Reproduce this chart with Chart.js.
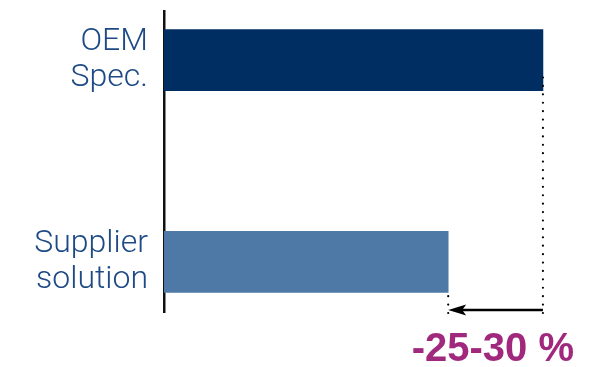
<!DOCTYPE html>
<html>
<head>
<meta charset="utf-8">
<script src="https://cdn.jsdelivr.net/npm/chart.js@4"></script>
<style>
  html,body{margin:0;padding:0;background:#fff;}
  #wrap{width:605px;height:367px;}
</style>
</head>
<body>
<div id="wrap"><canvas id="cmp"></canvas></div>
<script>
/* ---------- Data ---------- */
const categories = [['OEM','Spec.'], ['Supplier','solution']];
const values     = [100, 75];
const barColors  = ['#002d62', '#4e79a6'];
const deltaLabel = '-25-30 %';
const yMin = -0.243, yMax = 1.248;   // index axis range (bar 0 on top)

/* ---------- Dotted guides + arrow ---------- */
const guides = {
  id:'guides',
  afterDatasetsDraw(chart){
    const {ctx, chartArea, scales:{x, y}} = chart;
    const xTop = x.getPixelForValue(values[0]);
    const xLow = x.getPixelForValue(values[1]);
    const bottom = chartArea.bottom + 1;
    const barHalf = 30;
    ctx.save();
    ctx.strokeStyle = '#000';
    ctx.lineWidth = 2.2;
    ctx.lineCap = 'round';
    ctx.setLineDash([0.01, 8.4]);
    // dotted drop from OEM bar end
    ctx.beginPath();
    ctx.moveTo(xTop, bottom);
    ctx.lineTo(xTop, y.getPixelForValue(0) + 15);
    ctx.stroke();
    // dotted drop from supplier bar end
    ctx.beginPath();
    ctx.moveTo(xLow, bottom);
    ctx.lineTo(xLow, y.getPixelForValue(1) + barHalf);
    ctx.stroke();
    // arrow
    ctx.setLineDash([]);
    ctx.lineCap = 'butt';
    const ay = bottom - 3;
    ctx.lineWidth = 2.5;
    ctx.beginPath();
    ctx.moveTo(xTop, ay);
    ctx.lineTo(xLow + 12, ay);
    ctx.stroke();
    ctx.fillStyle = '#000';
    ctx.beginPath();
    ctx.moveTo(xLow, ay);
    ctx.lineTo(xLow + 18, ay - 5.5);
    ctx.lineTo(xLow + 14, ay);
    ctx.lineTo(xLow + 18, ay + 5.5);
    ctx.closePath();
    ctx.fill();
    ctx.restore();
  }
};

new Chart(document.getElementById('cmp'), {
  type:'bar',
  data:{
    datasets:[{
      data: values.map((v,i)=>({x:v, y:i})),
      backgroundColor: barColors,
      barThickness: 61
    }]
  },
  options:{
    indexAxis:'y',
    responsive:true,
    maintainAspectRatio:false,
    animation:false,
    layout:{padding:{top:11, right:31, bottom:0, left:0}},
    scales:{
      x:{display:false, min:0, max:108.2},
      y:{
        type:'linear',
        reverse:true,
        bounds:'data',
        offset:false,
        min:yMin, max:yMax,
        z:1,
        grid:{display:false, drawTicks:false, offset:false},
        border:{display:true, color:'#111', width:2.5},
        afterBuildTicks(s){
          s.ticks = categories.map((c,i)=>({value:i}));
          s.min = yMin; s.max = yMax;
        },
        afterFit(s){ s.width = 164; s.paddingTop = 0; s.paddingBottom = 0; },
        ticks:{
          padding:16,
          color:'#1d4a85',
          font:{family:'Roboto, "Liberation Sans", sans-serif', size:32, weight:300, lineHeight:1.125},
          callback:(v)=>categories[v]
        }
      }
    },
    plugins:{
      legend:{display:false},
      tooltip:{enabled:false},
      title:{
        display:true,
        position:'bottom',
        align:'end',
        text: deltaLabel,
        color:'#a0297d',
        padding:{top:21, bottom:0},
        font:{family:'"Liberation Sans", sans-serif', size:40, weight:'bold', lineHeight:0.85}
      }
    }
  },
  plugins:[guides]
});
</script>
</body>
</html>
